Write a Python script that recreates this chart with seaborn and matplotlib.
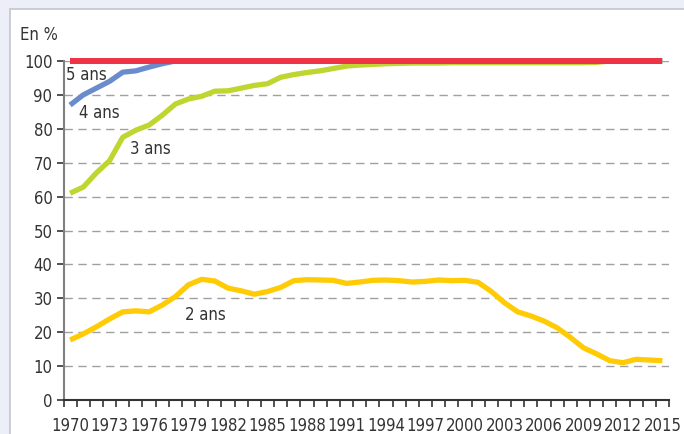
import numpy as np
import pandas as pd
import matplotlib.pyplot as plt
import seaborn as sns
from matplotlib import font_manager as fm
from matplotlib.patches import Rectangle

years = list(range(1970, 2016))

ans5 = [100] * 46
ans4 = [87, 90, 92, 94, 96.7, 97.1, 98.2, 99.2] + [100] * 38
ans3 = [61, 62.8, 67, 70.6, 77.5, 79.6, 81.1, 84, 87.3, 88.8,
        89.6, 91.1, 91.2, 92, 92.8, 93.3, 95.2, 96, 96.6, 97.1,
        97.8, 98.5, 98.8, 99, 99.2, 99.3, 99.4, 99.4, 99.4, 99.5,
        99.5, 99.5, 99.5, 99.5, 99.5, 99.5, 99.5, 99.5, 99.5, 99.5,
        99.6, 100, 100, 100, 100, 100]
ans2 = [17.7, 19.5, 21.6, 23.9, 26, 26.3, 26, 28, 30.5, 34,
        35.6, 35.1, 33, 32.2, 31.2, 32, 33.2, 35.2, 35.5, 35.4,
        35.3, 34.4, 34.8, 35.3, 35.4, 35.2, 34.8, 35, 35.4, 35.2,
        35.3, 34.7, 32, 28.7, 26, 24.8, 23.3, 21.3, 18.5, 15.4,
        13.6, 11.6, 11, 12, 11.8, 11.6]

series = {"2 ans": ans2, "3 ans": ans3, "4 ans": ans4, "5 ans": ans5}
colors = {"2 ans": "#ffcb05", "3 ans": "#bed62f", "4 ans": "#6b8ccc", "5 ans": "#ee3347"}

df = pd.DataFrame({"annee": years, **series})
df = df.melt(id_vars="annee", var_name="age", value_name="taux")

sns.set_style("white")

# police étroite si dispo
noms = {f.name for f in fm.fontManager.ttflist}
condensed = [f for f in fm.fontManager.ttflist if f.name == "DejaVu Sans" and f.stretch == "condensed"]
fs = 13.5
if "Liberation Sans Narrow" in noms:
    plt.rcParams["font.family"] = ["Liberation Sans Narrow", "DejaVu Sans"]
elif condensed:
    plt.rcParams["font.family"] = ["DejaVu Sans"]
    plt.rcParams["font.stretch"] = "condensed"
    fs = 12
else:
    plt.rcParams["font.family"] = ["Roboto", "DejaVu Sans"]
    fs = 11

fig = plt.figure(figsize=(6.84, 4.34), dpi=100)
fig.patch.set_facecolor("#eceff8")
fig.patches.append(Rectangle((10 / 684, -0.01), 1, 1.01 - 9 / 434, transform=fig.transFigure,
                             facecolor="white", edgecolor="#c4c6cc", linewidth=1.2, zorder=-5))

ax = fig.add_axes([63.5 / 684, 1 - 400 / 434, 605.5 / 684, 339 / 434])
ax.set_facecolor("none")
ax.set_zorder(2)

for y in range(10, 101, 10):
    ax.axhline(y, color="#a0a0a0", lw=1, ls=(0, (6, 4)), zorder=1)

for age in ["2 ans", "3 ans", "4 ans", "5 ans"]:
    sns.lineplot(data=df[df["age"] == age], x="annee", y="taux", color=colors[age],
                 lw=4.3 if age == "5 ans" else 3.8, ax=ax, clip_on=False, zorder=3,
                 solid_capstyle="butt")

ax.set_xlim(1969.5, 2015.5)
ax.set_ylim(0, 100)
ax.set_xlabel("")
ax.set_ylabel("")

ax.set_xticks(years[::3])
ax.set_xticklabels([str(y) for y in years[::3]], fontsize=fs, color="#333333")
ax.set_xticks(np.arange(1969.5, 2016, 1), minor=True)
ax.tick_params(axis="x", which="major", bottom=False, length=0, pad=12)
ax.tick_params(axis="x", which="minor", bottom=True, length=5, width=1.2,
               color="#333333", direction="out")

ax.set_yticks(range(0, 101, 10))
ax.set_yticklabels([str(v) for v in range(0, 101, 10)], fontsize=fs, color="#333333")
ax.tick_params(axis="y", left=True, length=5, width=1.2, color="#333333", direction="out", pad=3)

for s in ["top", "right"]:
    ax.spines[s].set_visible(False)
ax.spines["left"].set_color("#808080")
ax.spines["left"].set_linewidth(1.5)
ax.spines["bottom"].set_color("#333333")
ax.spines["bottom"].set_linewidth(1.5)
ax.spines["bottom"].set_zorder(4)

lab = dict(fontsize=fs, color="#333333", va="center", ha="left", zorder=5)
ax.text(1969.7, 95.9, "5 ans", **lab)
ax.text(1970.7, 84.7, "4 ans", **lab)
ax.text(1974.55, 74, "3 ans", **lab)
ax.text(1978.7, 25, "2 ans", **lab)

fig.text(20 / 684, 1 - 35 / 434, "En %", fontsize=fs, color="#333333", va="center", ha="left")

fig.savefig("out.png", dpi=100, facecolor=fig.get_facecolor())
